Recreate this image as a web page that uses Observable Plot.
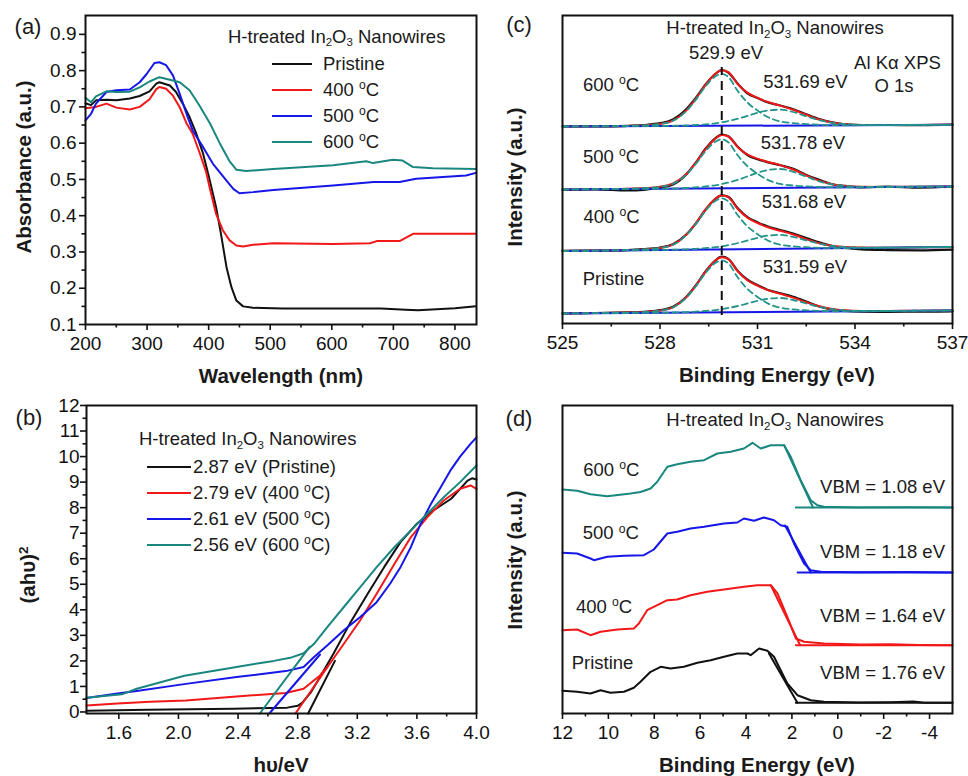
<!DOCTYPE html>
<html><head><meta charset="utf-8">
<script src="https://cdn.jsdelivr.net/npm/d3@7"></script>
<script src="https://cdn.jsdelivr.net/npm/@observablehq/plot@0.6"></script>
<style>
body{margin:0;background:#fff}
#fig{position:relative;width:968px;height:776px;font-family:"Liberation Sans",Arial,sans-serif;color:#1a1a1a;overflow:hidden;background:#fff}
#fig svg{position:absolute}
.t{position:absolute;white-space:nowrap;line-height:1;font-size:18.5px}
.sub{position:relative;top:0.32em;font-size:0.62em}
.sup{position:relative;top:-0.55em;font-size:0.66em}
.b{font-weight:bold;font-size:20.5px}
.L{font-size:22px}
.lg{position:absolute;height:2.4px}
</style></head><body><div id="fig"></div>
<script>
// ---------- Panel (a): absorbance ----------
const absPristineWl = [200,209,217,234,250,272,288,304,315,320,337,347,358,369,380,391,400,412,420,429,437,445,456,472,520,600,680,720,740,800,834];
const absPristine   = [0.710,0.705,0.718,0.720,0.718,0.723,0.730,0.743,0.764,0.768,0.759,0.741,0.709,0.672,0.626,0.571,0.510,0.424,0.350,0.258,0.203,0.166,0.150,0.146,0.144,0.144,0.144,0.141,0.139,0.145,0.150];
const abs400Wl = [200,217,234,250,272,288,304,315,320,331,342,353,364,374,385,396,402,412,423,434,445,456,472,505,602,662,673,710,732,834];
const abs400   = [0.696,0.700,0.709,0.698,0.693,0.700,0.721,0.749,0.755,0.750,0.731,0.699,0.655,0.626,0.575,0.520,0.475,0.405,0.360,0.332,0.318,0.315,0.320,0.324,0.322,0.324,0.330,0.330,0.350,0.350];
const abs500Wl = [200,209,217,234,250,272,288,299,312,320,331,342,353,364,374,391,407,429,440,450,472,505,602,668,710,737,818,834];
const abs500   = [0.663,0.681,0.709,0.741,0.746,0.748,0.768,0.790,0.821,0.823,0.815,0.787,0.736,0.681,0.635,0.589,0.543,0.497,0.474,0.462,0.465,0.471,0.483,0.493,0.493,0.502,0.511,0.518];
const abs600Wl = [200,209,217,234,250,272,288,304,320,337,353,369,385,402,418,434,445,461,505,602,656,667,699,715,732,764,834];
const abs600   = [0.725,0.713,0.729,0.743,0.741,0.742,0.754,0.770,0.782,0.775,0.768,0.746,0.704,0.655,0.600,0.550,0.527,0.523,0.529,0.539,0.550,0.545,0.554,0.552,0.534,0.531,0.529];
const aXTicks = [200,300,400,500,600,700,800], aXMinor = [250,350,450,550,650,750];
const aYTicks = [0.1,0.2,0.3,0.4,0.5,0.6,0.7,0.8,0.9], aYMinor = [0.15,0.25,0.35,0.45,0.55,0.65,0.75,0.85];

// ---------- Panel (b): Tauc plot ----------
const taucPristineE = [1.383,1.8,2.37,2.73,2.8,2.83,2.89,2.95,3.04,3.15,3.27,3.38,3.49,3.6,3.71,3.83,3.94,3.97,4.0];
const taucPristine  = [0.05,0.09,0.13,0.17,0.24,0.36,0.78,1.37,2.28,3.46,4.63,5.67,6.65,7.37,7.89,8.35,9.06,9.15,9.1];
const tauc400E = [1.383,1.59,1.81,2.05,2.39,2.72,2.84,2.95,3.0,3.11,3.22,3.33,3.45,3.56,3.67,3.78,3.89,3.96,4.0];
const tauc400  = [0.25,0.33,0.40,0.45,0.61,0.74,0.91,1.43,1.76,2.67,3.59,4.63,5.8,6.85,7.63,8.28,8.74,8.87,8.74];
const tauc500E = [1.383,1.59,1.72,2.05,2.39,2.72,2.84,2.91,3.0,3.11,3.22,3.33,3.42,3.49,3.56,3.62,3.69,3.76,3.83,3.89,3.96,4.0];
const tauc500  = [0.55,0.72,0.82,1.1,1.37,1.6,1.76,2.15,2.61,3.2,3.72,4.3,5.02,5.67,6.46,7.3,8.1,8.8,9.5,10.0,10.5,10.75];
const tauc600E = [1.383,1.62,1.72,2.04,2.26,2.48,2.64,2.75,2.84,2.91,3.0,3.11,3.22,3.33,3.45,3.56,3.67,3.78,3.89,4.0];
const tauc600  = [0.56,0.69,0.91,1.42,1.63,1.85,2.0,2.12,2.3,2.67,3.33,4.11,4.89,5.67,6.46,7.11,7.76,8.41,9.0,9.65];
const tangPristineE = [2.87,3.05], tangPristine = [-0.06,2.0];
const tang400E = [2.785,3.0], tang400 = [-0.06,1.76];
const tang500E = [2.61,2.95], tang500 = [-0.06,2.25];
const tang600E = [2.546,2.88], tang600 = [-0.06,2.55];
const bXTicks = [1.6,2.0,2.4,2.8,3.2,3.6,4.0], bXMinor = [1.8,2.2,2.6,3.0,3.4,3.8];
const bYTicks = [0,1,2,3,4,5,6,7,8,9,10,11,12], bYMinor = [0.5,1.5,2.5,3.5,4.5,5.5,6.5,7.5,8.5,9.5,10.5,11.5];

// ---------- Panel (c): O 1s XPS (stacked, offsets for clarity) ----------
const xpsE = [525,526,527,527.5,528,528.4,528.8,529.1,529.4,529.7,529.9,530.1,530.4,530.7,531,531.3,531.7,532.1,532.5,532.9,533.3,533.7,534.2,535,536,537];
const xpsOffsets = [10,72.5,134,197]; // Pristine, 400, 500, 600
const xpsDataP   = [0,0.5,1.1,1.6,3.3,6.8,16.3,28.0,42.0,52.9,56.8,54.6,42.3,33.5,28.4,23.8,20.3,16.6,11.9,7.0,4.0,2.6,1.9,1.7,1.8,2.0];
const xpsFitP    = [0,0.4,0.9,1.4,2.9,6.2,15.9,27.8,41.9,52.8,56.3,54.4,41.8,33.0,27.8,23.6,19.7,15.9,11.3,7.2,4.5,3.2,2.6,2.5,2.8,3.0];
const xpsMainP   = [0,0.4,0.9,1.4,2.8,6.1,15.5,27.0,40.6,50.6,53.2,50.2,35.7,24.3,16.6,10.4,5.8,4.1,3.2,2.6,2.3,2.2,2.3,2.5,2.8,3.0];
const xpsSecP    = [0,0.3,0.5,0.6,0.8,1.0,1.4,1.9,2.5,3.4,4.3,5.5,7.5,10.1,12.7,14.7,15.5,13.5,10.0,6.6,4.3,3.2,2.6,2.5,2.8,3.0];
const xpsData400 = [0.2,0.4,0.9,1.8,3.5,6.8,16.2,27.4,41.2,52.0,55.7,54.2,42.4,33.6,28.8,24.6,21.0,17.4,13.0,8.6,5.0,3.0,1.6,0.9,0.6,1.4];
const xpsFit400  = [0,0.4,1.0,1.6,3.1,6.3,16.0,27.7,41.6,52.2,55.7,53.8,41.7,33.0,28.0,24.0,20.2,16.5,11.9,7.8,5.2,3.9,3.4,3.3,3.7,4.0];
const xpsMain400 = [0,0.4,1.0,1.6,3.0,6.2,15.6,26.9,40.2,50.0,52.6,49.6,35.5,24.3,16.8,10.8,6.3,4.7,3.8,3.2,3.0,2.9,3.1,3.3,3.7,4.0];
const xpsSec400  = [0,0.3,0.7,0.8,1.1,1.3,1.7,2.2,2.9,3.8,4.7,5.9,8.0,10.6,13.2,15.3,16.1,14.1,10.6,7.3,5.0,3.9,3.4,3.3,3.7,4.0];
const xpsData500 = [-0.3,0.2,-0.8,-0.3,2.0,5.0,14.8,26.8,40.8,51.2,55.0,53.3,42.5,34.2,30.3,27.4,24.2,20.6,14.6,9.6,5.2,3.6,2.2,2.8,1.8,3.0];
const xpsFit500  = [0,0.4,0.8,1.4,2.8,6.0,15.3,26.6,40.2,50.7,54.4,53.0,42.1,34.8,30.9,27.8,24.4,20.0,14.1,8.9,5.3,3.5,2.7,2.5,2.8,3.0];
const xpsMain500 = [0,0.4,0.8,1.4,2.7,5.8,14.7,25.5,38.3,47.7,50.2,47.3,33.7,23.0,15.7,9.9,5.6,4.0,3.1,2.6,2.3,2.2,2.3,2.5,2.8,3.0];
const xpsSec500  = [0,0.3,0.5,0.6,0.8,1.0,1.5,2.2,3.0,4.2,5.4,7.0,9.7,13.2,16.7,19.4,20.5,17.7,12.9,8.2,5.1,3.5,2.7,2.5,2.8,3.0];
const xpsData600 = [0.2,0.1,0.7,1.5,3.3,7.0,17.0,28.5,42.0,52.5,56.5,54.0,42.5,33.0,28.5,24.2,21.0,17.3,12.2,7.4,4.2,2.2,1.5,1.5,1.4,1.8];
const xpsFit600  = [0,0.2,0.6,1.1,2.6,5.9,15.6,27.6,41.7,52.7,56.2,54.4,42.1,33.6,28.7,24.7,20.9,16.8,11.7,7.0,4.0,2.3,1.6,1.4,1.6,1.7];
const xpsMain600 = [0,0.2,0.6,1.1,2.5,5.7,15.1,26.6,40.1,50.1,52.7,49.6,35.1,23.7,15.9,9.7,5.1,3.4,2.4,1.7,1.4,1.2,1.3,1.4,1.6,1.7];
const xpsSec600  = [0,0.1,0.3,0.4,0.5,0.6,1.0,1.5,2.2,3.2,4.2,5.5,7.8,10.7,13.7,15.9,16.8,14.5,10.3,6.4,3.7,2.4,1.6,1.4,1.6,1.7];
const xpsBaseE = [525,537];
const xpsBases = [[0,3],[0,4],[0,3],[0,1.7]];
const xpsPeakE = 529.9, xpsPeakSpan = [8,256];
const cXTicks = [525,528,531,534,537], cXMinor = [526.5,529.5,532.5,535.5];

// ---------- Panel (d): valence band (stacked) ----------
const vbPE = [12,11.36,10.78,10.34,9.91,9.32,8.89,8.6,8.16,7.72,7.29,6.71,6.12,5.54,4.96,4.38,3.94,3.8,3.43,3.07,2.78,2.49,2.2,1.76,1.18,0.6,-0.9,-2.31,-3.3,-3.77,-5];
const vbP  = [22.7,21.7,20.0,23.3,20.7,21.7,25.7,31.7,41.7,46.7,45.0,46.7,50.7,53.3,56.7,60.0,60.0,58.3,65.0,62.7,56.7,43.3,30.0,18.3,13.3,11.7,11.0,11.3,12.0,10.7,10.7];
const vb400E = [12,11.36,10.78,10.34,9.61,8.89,8.67,8.31,7.87,7.43,7.0,6.42,5.69,4.96,4.09,3.51,2.92,2.63,2.2,1.83,1.47,0.6,-1.0,-2.31,-3.5,-5];
const vb400  = [83.3,84.0,78.3,81.7,84.0,85.0,90.0,103.3,108.3,113.3,114.0,118.3,121.7,124.0,126.7,128.3,128.3,120.0,96.7,75.0,71.7,70.0,69.0,69.3,68.6,68.3];
const vb500E = [12,11.36,10.78,10.63,10.05,9.32,8.45,8.02,7.43,7.0,6.42,5.83,4.96,4.38,4.09,3.65,3.22,2.78,2.49,2.2,1.91,1.47,1.18,0.74,-0.86,-3.0,-5];
const vb500  = [160.7,160.0,155.0,153.3,156.7,157.7,158.3,164.0,180.0,181.7,185.0,186.7,190.0,191.0,195.0,192.7,196.0,193.3,188.3,186.7,170.0,150.0,143.3,141.7,141.3,141.6,141.0];
const vb600E = [12,11.36,10.78,10.05,9.03,8.6,8.16,7.87,7.43,7.0,6.42,5.83,5.25,4.67,4.09,3.72,3.36,2.92,2.34,2.05,1.62,1.18,0.89,0.6,-0.86,-3.04,-5];
const vb600  = [224.0,222.7,219.3,217.3,220.0,221.5,225.0,231.7,246.7,249.3,251.7,253.3,260.0,261.7,265.0,270.7,265.0,268.3,268.3,256.7,233.3,213.3,208.3,206.7,206.0,206.3,206.0];
const vbTangE = [[3.0,1.76],[2.92,1.64],[2.3,1.18],[2.34,1.08]];
const vbTang  = [[60,10.7],[128.3,68.3],[188,141],[268.3,206]];
const vbFlatE = [[1.83,-5],[1.83,-5],[1.75,-5],[1.83,-5]];
const vbFlat  = [10.7,68.3,141,206];
const dXTicks = [12,10,8,6,4,2,0,-2,-4], dXMinor = [11,9,7,5,3,1,-1,-3];

// ---------- style ----------
const C = {black:"#111111", red:"#f21818", blue:"#1616e8", teal:"#19877f", dash:"#23948a"};
const ink = "#111";
const fig = document.getElementById("fig");
const pts = (xs, ys, off=0) => xs.map((x,i)=>({x, y: ys[i] + off}));
const style = {fontFamily:"'Liberation Sans', Arial, sans-serif", color: ink, background:"transparent", overflow:"visible"};
const TF = 19;

function axes(xT, xM, yT, yM, xFmt, yFmt, yPad) {
  const m = [
    Plot.axisX(xT, {tickSize:6, tickPadding:6, fontSize:TF, label:null, strokeWidth:1.6, tickFormat:xFmt}),
    Plot.axisX(xM, {tickSize:3.5, label:null, strokeWidth:1.6, tickFormat:()=>""})
  ];
  if (yT) {
    m.push(Plot.axisY(yT, {tickSize:6, tickPadding:yPad, fontSize:TF, label:null, strokeWidth:1.6, tickFormat:yFmt}));
    m.push(Plot.axisY(yM, {tickSize:3.5, label:null, strokeWidth:1.6, tickFormat:()=>""}));
  }
  return m;
}
function place(svg, left, top) { svg.style.left = left + "px"; svg.style.top = top + "px"; fig.appendChild(svg); }

// (a)
place(Plot.plot({
  width:490, height:390, marginLeft:85, marginRight:14, marginTop:15, marginBottom:66, style,
  x:{domain:[200,835]}, y:{domain:[0.1,0.952]},
  marks:[
    Plot.line(pts(absPristineWl, absPristine), {x:"x", y:"y", stroke:C.black, strokeWidth:2}),
    Plot.line(pts(abs400Wl, abs400), {x:"x", y:"y", stroke:C.red, strokeWidth:2}),
    Plot.line(pts(abs500Wl, abs500), {x:"x", y:"y", stroke:C.blue, strokeWidth:2}),
    Plot.line(pts(abs600Wl, abs600), {x:"x", y:"y", stroke:C.teal, strokeWidth:2}),
    Plot.frame({stroke:ink, strokeWidth:2}),
    ...axes(aXTicks, aXMinor, aYTicks, aYMinor, d=>String(d), d3.format(".1f"), 3)
  ]
}), 0, 0);

// (b)
place(Plot.plot({
  width:490, height:386, marginLeft:86, marginRight:14, marginTop:15, marginBottom:63, style,
  x:{domain:[1.383,4.0]}, y:{domain:[-0.06,12]},
  marks:[
    Plot.line(pts(taucPristineE, taucPristine), {x:"x", y:"y", stroke:C.black, strokeWidth:2}),
    Plot.line(pts(tangPristineE, tangPristine), {x:"x", y:"y", stroke:C.black, strokeWidth:2}),
    Plot.line(pts(tauc400E, tauc400), {x:"x", y:"y", stroke:C.red, strokeWidth:2}),
    Plot.line(pts(tang400E, tang400), {x:"x", y:"y", stroke:C.red, strokeWidth:2}),
    Plot.line(pts(tauc500E, tauc500), {x:"x", y:"y", stroke:C.blue, strokeWidth:2}),
    Plot.line(pts(tang500E, tang500), {x:"x", y:"y", stroke:C.blue, strokeWidth:2}),
    Plot.line(pts(tauc600E, tauc600), {x:"x", y:"y", stroke:C.teal, strokeWidth:2}),
    Plot.line(pts(tang600E, tang600), {x:"x", y:"y", stroke:C.teal, strokeWidth:2}),
    Plot.frame({stroke:ink, strokeWidth:2}),
    ...axes(bXTicks, bXMinor, bYTicks, bYMinor, d3.format(".1f"), d=>String(d), 1)
  ]
}), 0, 390);

// (c)
const xpsSets = [
  [xpsDataP, xpsFitP, xpsMainP, xpsSecP],
  [xpsData400, xpsFit400, xpsMain400, xpsSec400],
  [xpsData500, xpsFit500, xpsMain500, xpsSec500],
  [xpsData600, xpsFit600, xpsMain600, xpsSec600]
];
const cMarks = [];
xpsSets.forEach(([dat, fit, main, sec], k) => {
  const off = xpsOffsets[k];
  cMarks.push(Plot.line(pts(xpsE, dat, off), {x:"x", y:"y", stroke:C.black, strokeWidth:2.2, curve:"monotone-x"}));
  cMarks.push(Plot.line(pts(xpsE, fit, off), {x:"x", y:"y", stroke:C.red, strokeWidth:2, curve:"monotone-x"}));
  cMarks.push(Plot.line(pts(xpsBaseE, xpsBases[k], off), {x:"x", y:"y", stroke:C.blue, strokeWidth:2}));
  cMarks.push(Plot.line(pts(xpsE, main, off), {x:"x", y:"y", stroke:C.dash, strokeWidth:1.8, strokeDasharray:"6,4", curve:"monotone-x"}));
  cMarks.push(Plot.line(pts(xpsE, sec, off), {x:"x", y:"y", stroke:C.dash, strokeWidth:1.8, strokeDasharray:"6,4", curve:"monotone-x"}));
});
cMarks.push(Plot.ruleX([xpsPeakE], {y1:xpsPeakSpan[0], y2:xpsPeakSpan[1], stroke:ink, strokeWidth:2, strokeDasharray:"9,6"}));
place(Plot.plot({
  width:478, height:390, marginLeft:72, marginRight:16, marginTop:15, marginBottom:67, style,
  x:{domain:[525,537]}, y:{domain:[0,308], axis:null},
  marks:[...cMarks, Plot.frame({stroke:ink, strokeWidth:2}), ...axes(cXTicks, cXMinor, null, null, d=>String(d))]
}), 490, 0);

// (d)
const vbSets = [[vbPE, vbP, C.black],[vb400E, vb400, C.red],[vb500E, vb500, C.blue],[vb600E, vb600, C.teal]];
const dMarks = [];
vbSets.forEach(([xs, ys, col], k) => {
  dMarks.push(Plot.line(pts(xs, ys), {x:"x", y:"y", stroke:col, strokeWidth:2}));
  dMarks.push(Plot.line(pts(vbTangE[k], vbTang[k]), {x:"x", y:"y", stroke:col, strokeWidth:2}));
  dMarks.push(Plot.line(pts(vbFlatE[k], [vbFlat[k], vbFlat[k]]), {x:"x", y:"y", stroke:col, strokeWidth:2}));
});
place(Plot.plot({
  width:478, height:386, marginLeft:72, marginRight:16, marginTop:15, marginBottom:63, style,
  x:{domain:[12,-5]}, y:{domain:[0,308], axis:null},
  marks:[...dMarks, Plot.frame({stroke:ink, strokeWidth:2}), ...axes(dXTicks, dXMinor, null, null, d=>String(d))]
}), 490, 390);

// ---------- text ----------
function txt(html, x, y, anchor="start", cls="", rot=false) {
  const d = document.createElement("div");
  d.className = "t " + cls; d.innerHTML = html;
  d.style.left = x + "px"; d.style.top = y + "px";
  const tx = anchor === "middle" ? "-50%" : anchor === "end" ? "-100%" : "0";
  d.style.transform = `translate(${tx},-50%)` + (rot ? " rotate(-90deg)" : "");
  if (rot) d.style.transformOrigin = "50% 50%";
  fig.appendChild(d);
}
function seg(x1, x2, y, col) {
  const d = document.createElement("div");
  d.className = "lg"; d.style.left = x1 + "px"; d.style.width = (x2 - x1) + "px";
  d.style.top = (y - 1.2) + "px"; d.style.background = col; fig.appendChild(d);
}
const ino = 'H-treated In<span class="sub">2</span>O<span class="sub">3</span> Nanowires';
const deg = t => `${t} <span class="sup">o</span>C`;

txt("(a)", 28, 27, "middle", "L"); txt("(b)", 29, 418, "middle", "L");
txt("(c)", 519, 25, "middle", "L"); txt("(d)", 519, 419, "middle", "L");

txt("Absorbance (a.u.)", 24, 167, "middle", "b", true);
txt("Wavelength (nm)", 281, 376, "middle", "b");
txt("Intensity (a.u.)", 515, 177, "middle", "b", true);
txt("Binding Energy (eV)", 777, 375, "middle", "b");
txt('(ahυ)<span class="sup" style="top:-0.5em">2</span>', 28, 575, "middle", "b", true);
txt("hυ/eV", 281, 765, "middle", "b");
txt("Intensity (a.u.)", 515, 560, "middle", "b", true);
txt("Binding Energy (eV)", 757, 765, "middle", "b");

// (a) legend
txt(ino, 228, 36.5);
const aLeg = [["Pristine", C.black, 63.8], [deg("400"), C.red, 90], [deg("500"), C.blue, 116], [deg("600"), C.teal, 141.7]];
aLeg.forEach(([l, c, y]) => { seg(272, 312, y, c); txt(l, 323, y); });
// (b) legend
txt(ino, 139, 439);
const bLeg = [["2.87 eV (Pristine)", C.black, 467.3], ["2.79 eV (" + deg("400") + ")", C.red, 492.7], ["2.61 eV (" + deg("500") + ")", C.blue, 518.7], ["2.56 eV (" + deg("600") + ")", C.teal, 545]];
bLeg.forEach(([l, c, y]) => { seg(147, 191, y, c); txt(l, 193, y); });
// (c) annotations
txt(ino, 775, 28.3, "middle");
txt("529.9 eV", 726, 52.7, "middle");
txt(deg("600"), 583, 85); txt(deg("500"), 583, 156.7); txt(deg("400"), 583.5, 216.7); txt("Pristine", 582.7, 279.3);
txt("531.69 eV", 763.3, 82.3); txt("531.78 eV", 760.7, 142.7); txt("531.68 eV", 761.7, 201.7); txt("531.59 eV", 762.7, 266.7);
txt("Al Kα XPS", 897.5, 63.3, "middle"); txt("O 1s", 894, 85.7, "middle");
// (d) annotations
txt(ino, 775, 420, "middle");
txt(deg("600"), 583.3, 470); txt(deg("500"), 582.7, 533.3); txt(deg("400"), 576, 606.7); txt("Pristine", 571.7, 662.7);
txt("VBM = 1.08 eV", 945, 486.7, "end"); txt("VBM = 1.18 eV", 945, 551.7, "end");
txt("VBM = 1.64 eV", 945, 616, "end"); txt("VBM = 1.76 eV", 945, 672.7, "end");
</script></body></html>
